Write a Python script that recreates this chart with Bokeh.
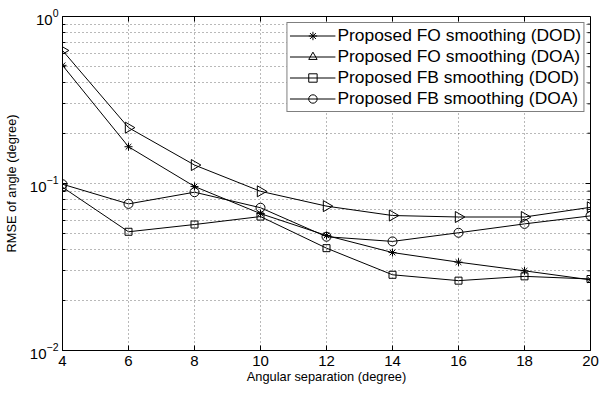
import numpy as np
from bokeh.plotting import figure
from bokeh.models import FixedTicker, Legend, LegendItem, ColumnDataSource
from bokeh.embed import file_html
from bokeh.resources import INLINE

sep = [4, 6, 8, 10, 12, 14, 16, 18, 20]
fo_dod = [0.51, 0.166, 0.096, 0.066, 0.0488, 0.0386, 0.0338, 0.030, 0.0265]
fo_doa = [0.626, 0.216, 0.129, 0.0898, 0.0732, 0.0643, 0.063, 0.063, 0.072]
fb_dod = [0.095, 0.0514, 0.0568, 0.0634, 0.041, 0.0284, 0.0262, 0.0278, 0.0268]
fb_doa = [0.099, 0.0755, 0.0887, 0.0716, 0.048, 0.045, 0.0507, 0.0573, 0.064]
labels = ["Proposed FO smoothing (DOD)", "Proposed FO smoothing (DOA)",
          "Proposed FB smoothing (DOD)", "Proposed FB smoothing (DOA)"]
x_ticks = [4, 6, 8, 10, 12, 14, 16, 18, 20]
y_major = [0.01, 0.1, 1]
y_minor = [m * d for d in (0.01, 0.1) for m in range(2, 10)]
X_MIN, X_MAX = 4, 20
Y_MIN, Y_MAX = 0.01, 1

FONT = "Liberation Sans"

p = figure(width=599, height=386, output_backend="svg", toolbar_location=None,
           y_axis_type="log", x_range=(X_MIN, X_MAX), y_range=(Y_MIN, Y_MAX),
           min_border_left=62, min_border_right=9, min_border_top=16, min_border_bottom=36)
p.outline_line_color = "black"
p.outline_line_width = 1
p.background_fill_color = "white"
p.border_fill_color = "white"

p.xaxis.ticker = FixedTicker(ticks=x_ticks)
p.yaxis.ticker = FixedTicker(ticks=y_major, minor_ticks=y_minor)

for ax in (p.xaxis[0], p.yaxis[0]):
    ax.axis_line_color = "black"
    ax.major_tick_in = 5
    ax.major_tick_out = 0
    ax.minor_tick_in = 3
    ax.minor_tick_out = 0
    ax.major_tick_line_color = "black"
    ax.minor_tick_line_color = "black"
    ax.major_label_text_font = FONT
    ax.major_label_text_font_size = "15px"
    ax.major_label_text_color = "black"
    ax.axis_label_text_font = FONT
    ax.axis_label_text_font_size = "12.8px"
    ax.axis_label_text_font_style = "normal"
    ax.axis_label_text_color = "black"

p.xaxis.axis_label = "Angular separation (degree)"
p.yaxis.axis_label = "RMSE of angle (degree)"
p.xaxis.major_label_standoff = 5
p.xaxis.axis_label_standoff = 0
p.yaxis.major_label_standoff = 4
p.yaxis.axis_label_standoff = 8

# mirrored inward ticks on the top and right edges of the box
p.ray(x=[X_MAX] * len(y_major), y=y_major, length=5, length_units="screen",
      angle=np.pi, line_color="black", line_width=1)
p.ray(x=[X_MAX] * len(y_minor), y=y_minor, length=3, length_units="screen",
      angle=np.pi, line_color="black", line_width=1)
p.ray(x=x_ticks, y=[Y_MAX] * len(x_ticks), length=5, length_units="screen",
      angle=-np.pi / 2, line_color="black", line_width=1)

for g in (p.xgrid[0], p.ygrid[0]):
    g.grid_line_color = "black"
    g.grid_line_alpha = 0.55
    g.grid_line_dash = "1 3"
    g.grid_line_width = 1
p.ygrid.minor_grid_line_color = "black"
p.ygrid.minor_grid_line_alpha = 0.55
p.ygrid.minor_grid_line_dash = "1 3"

items = []
series = [fo_dod, fo_doa, fb_dod, fb_doa]
markers = ["asterisk", "triangle", "square", "circle"]
sizes = [8, 11, 7, 9]
for i, (ys, lab) in enumerate(zip(series, labels)):
    src = ColumnDataSource(dict(x=sep, y=ys,
                                ang=[-np.pi / 2 if markers[i] == "triangle" else 0.0] * len(sep)))
    ln = p.line("x", "y", source=src, line_color="black", line_width=1)
    mk = p.scatter("x", "y", source=src, marker=markers[i], angle="ang", size=sizes[i],
                   line_color="black", fill_color=None, line_width=1)
    items.append(LegendItem(label=lab, renderers=[ln, mk]))

legend = Legend(items=items, location="top_right")
legend.margin = 6
legend.padding = 2
legend.spacing = 0
legend.glyph_width = 46
legend.glyph_height = 21
legend.label_height = 21
legend.label_standoff = 2
legend.label_text_font = FONT
legend.label_text_font_size = "17.4px"
legend.label_text_color = "black"
legend.border_line_color = "black"
legend.border_line_width = 1
legend.background_fill_alpha = 1
p.add_layout(legend, "center")

open("out.html", "w").write(file_html(p, INLINE))
